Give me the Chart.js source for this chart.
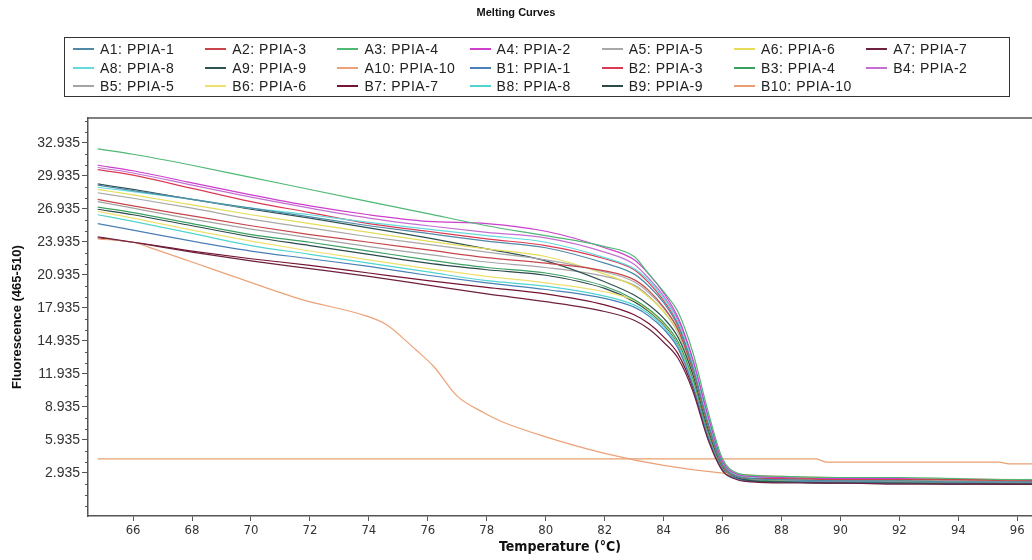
<!DOCTYPE html>
<html lang="en">
<head>
  <meta charset="UTF-8" />
  <title>Melting Curves</title>
  <script src="https://cdn.jsdelivr.net/npm/chart.js"></script>
  <style>
    html, body { margin: 0; padding: 0; background: #fff; }
    #wrap { position: relative; width: 1032px; height: 560px; overflow: hidden; }
    #legend {
      position: absolute; left: 64px; top: 37px; width: 946px; height: 60px;
      box-sizing: border-box; border: 1.5px solid #333; padding: 2px 0 0 8px;
      display: grid; grid-template-columns: repeat(7, 132.2px); grid-auto-rows: 18.4px;
      font: 14px "Liberation Sans", Arial, sans-serif; color: #222; letter-spacing: 0.5px;
    }
    .item { display: flex; align-items: center; white-space: nowrap; }
    .swatch { width: 21px; height: 2px; margin-right: 6px; }
  </style>
</head>
<body>
  <div id="wrap">
    <canvas id="chart" width="1032" height="560"></canvas>
    <div id="legend"></div>
  </div>

  <script>
    // temperature grid shared by the main curves
    const temps = [64.8, 66, 68, 70, 72, 74, 76, 78, 80, 82, 83, 83.5, 84, 84.5, 85, 85.5, 86, 86.5, 87, 88, 90, 92, 94, 96, 96.6];
    const tempsA10 = [64.8, 66, 66.8, 68, 69.4, 71.7, 73.9, 74.6, 75.6, 76.2, 77, 77.9, 78.5, 80, 82, 84, 86, 88, 92, 96.6];
    const tempsB10 = [64.8, 70, 76, 82, 89.2, 89.5, 95.4, 95.7, 96.6];

    const seriesNames = [
      'A1: PPIA-1', 'A2: PPIA-3', 'A3: PPIA-4', 'A4: PPIA-2', 'A5: PPIA-5', 'A6: PPIA-6', 'A7: PPIA-7',
      'A8: PPIA-8', 'A9: PPIA-9', 'A10: PPIA-10', 'B1: PPIA-1', 'B2: PPIA-3', 'B3: PPIA-4', 'B4: PPIA-2',
      'B5: PPIA-5', 'B6: PPIA-6', 'B7: PPIA-7', 'B8: PPIA-8', 'B9: PPIA-9', 'B10: PPIA-10'
    ];
    const seriesColors = [
      '#4f8aa6', '#c8464b', '#4fb874', '#cc3fcc', '#a8a8a8', '#e6dc5a', '#6e2040',
      '#62dade', '#2f5252', '#eca276', '#4a7fb8', '#dc3a52', '#3aa062', '#c46ed2',
      '#a4a4a4', '#eee070', '#761432', '#50d4d0', '#2c4a4a', '#e8a070'
    ];

    const A1 = [29.1, 28.6, 27.8, 27.0, 26.2, 25.4, 24.7, 24.0, 23.4, 22.0, 21.0, 19.9, 18.4, 16.2, 12.4, 7.5, 3.7, 2.6, 2.4, 2.3, 2.2, 2.2, 2.1, 2.1, 2.1];
    const A2 = [27.8, 27.2, 26.3, 25.4, 24.6, 23.9, 23.2, 22.5, 22.0, 21.3, 20.5, 19.5, 18.0, 15.9, 12.2, 7.3, 3.6, 2.6, 2.4, 2.4, 2.3, 2.3, 2.3, 2.2, 2.2];
    const A3 = [32.4, 31.9, 30.9, 29.8, 28.7, 27.6, 26.5, 25.4, 24.5, 23.5, 22.6, 21.0, 19.4, 17.5, 13.8, 8.6, 4.2, 2.9, 2.7, 2.6, 2.5, 2.5, 2.4, 2.3, 2.3];
    const A4 = [30.9, 30.4, 29.3, 28.2, 27.2, 26.4, 25.8, 25.6, 24.9, 23.4, 22.3, 21.0, 19.3, 17.0, 13.2, 8.2, 4.0, 2.8, 2.6, 2.5, 2.4, 2.4, 2.3, 2.3, 2.2];
    const A5 = [28.4, 27.9, 27.0, 26.0, 25.2, 24.4, 23.7, 23.0, 22.3, 21.2, 20.3, 19.3, 17.9, 15.9, 12.3, 7.4, 3.6, 2.6, 2.4, 2.3, 2.2, 2.2, 2.2, 2.1, 2.1];
    const A6 = [28.7, 28.2, 27.3, 26.4, 25.6, 24.8, 24.0, 23.3, 22.6, 21.0, 19.9, 18.9, 17.6, 15.7, 12.2, 7.3, 3.6, 2.6, 2.4, 2.3, 2.3, 2.2, 2.2, 2.2, 2.2];
    const A7 = [24.4, 23.9, 23.0, 22.2, 21.5, 20.8, 20.0, 19.2, 18.5, 17.6, 16.8, 16.0, 14.8, 13.3, 10.3, 6.0, 3.1, 2.3, 2.1, 2.0, 2.0, 1.9, 1.9, 1.9, 1.9];
    const A8 = [28.9, 28.5, 27.8, 27.0, 26.4, 25.7, 25.1, 24.5, 23.9, 22.5, 21.5, 20.4, 18.8, 16.6, 12.8, 7.8, 3.8, 2.7, 2.5, 2.4, 2.3, 2.3, 2.2, 2.2, 2.2];
    const A9 = [29.2, 28.7, 27.8, 26.9, 26.1, 25.2, 24.3, 23.3, 22.2, 20.3, 19.1, 18.2, 17.0, 15.2, 11.8, 7.0, 3.5, 2.5, 2.2, 2.1, 2.0, 2.0, 1.9, 1.9, 1.9];
    const A10 = [24.2, 23.9, 23.2, 22.1, 20.8, 18.7, 17.2, 16.4, 14.1, 12.6, 9.9, 8.4, 7.6, 6.2, 4.7, 3.6, 2.9, 2.6, 2.4, 2.3];
    const B1 = [25.6, 25.0, 24.0, 23.1, 22.4, 21.7, 20.9, 20.2, 19.6, 18.8, 18.0, 17.2, 16.0, 14.2, 10.8, 6.3, 3.2, 2.4, 2.2, 2.1, 2.1, 2.0, 2.0, 2.0, 1.9];
    const B2 = [30.5, 30.0, 28.8, 27.6, 26.6, 25.6, 24.9, 24.2, 23.6, 22.4, 21.4, 20.2, 18.6, 16.4, 12.6, 7.6, 3.8, 2.7, 2.5, 2.4, 2.4, 2.3, 2.3, 2.2, 2.2];
    const B3 = [27.1, 26.6, 25.6, 24.6, 23.9, 23.1, 22.3, 21.6, 21.1, 19.9, 18.7, 17.8, 16.6, 14.8, 11.4, 6.7, 3.4, 2.5, 2.3, 2.2, 2.2, 2.1, 2.1, 2.1, 2.0];
    const B4 = [30.7, 30.2, 29.1, 28.0, 27.0, 26.1, 25.4, 24.8, 24.3, 23.0, 21.9, 20.6, 19.0, 16.8, 13.0, 8.0, 3.9, 2.8, 2.6, 2.5, 2.4, 2.4, 2.3, 2.3, 2.3];
    const B5 = [27.6, 27.0, 26.0, 25.1, 24.3, 23.5, 22.8, 22.1, 21.6, 20.8, 20.0, 19.0, 17.6, 15.6, 12.0, 7.1, 3.5, 2.6, 2.4, 2.3, 2.3, 2.2, 2.2, 2.2, 2.1];
    const B6 = [26.7, 26.1, 25.0, 24.0, 23.1, 22.3, 21.5, 20.8, 20.2, 19.4, 18.6, 17.7, 16.5, 14.7, 11.3, 6.6, 3.3, 2.5, 2.3, 2.2, 2.2, 2.1, 2.1, 2.1, 2.1];
    const B7 = [24.3, 23.9, 23.1, 22.4, 21.8, 21.1, 20.4, 19.8, 19.2, 18.2, 17.3, 16.5, 15.3, 13.7, 10.6, 6.2, 3.2, 2.4, 2.2, 2.1, 2.0, 2.0, 2.0, 1.9, 1.9];
    const B8 = [26.4, 25.8, 24.7, 23.6, 22.8, 22.0, 21.2, 20.4, 19.9, 19.0, 18.2, 17.4, 16.2, 14.4, 11.0, 6.4, 3.2, 2.4, 2.2, 2.1, 2.1, 2.0, 2.0, 2.0, 2.0];
    const B9 = [26.9, 26.4, 25.4, 24.4, 23.6, 22.8, 22.0, 21.4, 20.9, 19.7, 18.5, 17.6, 16.4, 14.6, 11.2, 6.6, 3.3, 2.4, 2.2, 2.1, 2.0, 2.0, 2.0, 1.9, 1.9];
    const B10 = [4.2, 4.2, 4.2, 4.2, 4.2, 3.9, 3.9, 3.75, 3.75];

    const seriesValues = [A1, A2, A3, A4, A5, A6, A7, A8, A9, A10, B1, B2, B3, B4, B5, B6, B7, B8, B9, B10];
    const seriesTemps = seriesNames.map((n, i) => i === 9 ? tempsA10 : i === 19 ? tempsB10 : temps);

    const xTicks = [66, 68, 70, 72, 74, 76, 78, 80, 82, 84, 86, 88, 90, 92, 94, 96];
    const yTicks = [2.935, 5.935, 8.935, 11.935, 14.935, 17.935, 20.935, 23.935, 26.935, 29.935, 32.935];

    const axisColor = '#555';

    const datasets = seriesNames.map((name, i) => ({
      label: name,
      data: seriesTemps[i].map((t, j) => ({ x: t, y: seriesValues[i][j] })),
      borderColor: seriesColors[i],
      borderWidth: 1.2,
      pointRadius: 0,
      fill: false,
      cubicInterpolationMode: i === 19 ? 'default' : 'monotone',
      tension: 0
    }));

    // top border of the plot box + minor ticks on the y axis
    const frame = {
      id: 'frame',
      afterDraw(chart) {
        const { ctx, chartArea } = chart;
        const y = chart.scales.y;
        ctx.save();
        ctx.strokeStyle = axisColor;
        ctx.lineWidth = 1.5;
        ctx.beginPath();
        ctx.moveTo(chartArea.left, chartArea.top);
        ctx.lineTo(chartArea.right, chartArea.top);
        ctx.stroke();
        ctx.lineWidth = 1;
        ctx.beginPath();
        for (let v = yTicks[0] - 3; v <= y.max; v += 1) {
          if (yTicks.some(t => Math.abs(t - v) < 0.01)) continue;
          const py = Math.round(y.getPixelForValue(v)) + 0.5;
          ctx.moveTo(chartArea.left - 3, py);
          ctx.lineTo(chartArea.left, py);
        }
        ctx.stroke();
        ctx.restore();
      }
    };

    new Chart(document.getElementById('chart'), {
      type: 'line',
      data: { datasets },
      plugins: [frame],
      options: {
        responsive: false,
        animation: false,
        layout: { padding: { left: 0, right: 0, top: 0, bottom: 0 } },
        plugins: {
          legend: { display: false },
          tooltip: { enabled: false },
          title: {
            display: true,
            text: 'Melting Curves',
            color: '#111',
            font: { family: 'Arial, "Liberation Sans", sans-serif', size: 11, weight: 'bold' },
            padding: { top: 6, bottom: 98.8 }
          }
        },
        scales: {
          x: {
            type: 'linear',
            min: 64.47,
            max: 96.5,
            afterBuildTicks: s => { s.ticks = xTicks.map(v => ({ value: v })); },
            afterFit: s => { s.height = 44; },
            ticks: {
              color: '#333',
              padding: 2,
              maxRotation: 0,
              font: { family: '"Liberation Sans Narrow", "DejaVu Sans Condensed", Arial, sans-serif', size: 13 },
              callback: v => String(v)
            },
            grid: { drawOnChartArea: false, drawTicks: true, tickLength: 5, color: axisColor },
            border: { display: true, color: axisColor, width: 1.5 },
            title: {
              display: true,
              text: 'Temperature (°C)',
              color: '#111',
              font: { family: '"Liberation Sans Narrow", "DejaVu Sans Condensed", Arial, sans-serif', size: 14, weight: 'bold' },
              padding: { top: 0, bottom: 4 }
            }
          },
          y: {
            type: 'linear',
            min: -1.0,
            max: 35.2,
            afterBuildTicks: s => { s.ticks = yTicks.map(v => ({ value: v })); },
            afterFit: s => { s.width = 88; },
            ticks: {
              color: '#333',
              padding: 2,
              font: { family: '"Liberation Sans", Arial, sans-serif', size: 14 },
              callback: v => v.toFixed(3)
            },
            grid: { drawOnChartArea: false, drawTicks: true, tickLength: 6, color: axisColor },
            border: { display: true, color: axisColor, width: 1.5 },
            title: {
              display: true,
              text: 'Fluorescence (465-510)',
              color: '#111',
              font: { family: 'Arial, "Liberation Sans", sans-serif', size: 13, weight: 'bold' },
              padding: { top: 10, bottom: 0 }
            }
          }
        }
      }
    });

    // boxed legend, 7 columns
    const legend = document.getElementById('legend');
    seriesNames.forEach((name, i) => {
      const item = document.createElement('div');
      item.className = 'item';
      item.innerHTML = '<span class="swatch" style="background:' + seriesColors[i] + '"></span>' + name;
      legend.appendChild(item);
    });
  </script>
</body>
</html>
